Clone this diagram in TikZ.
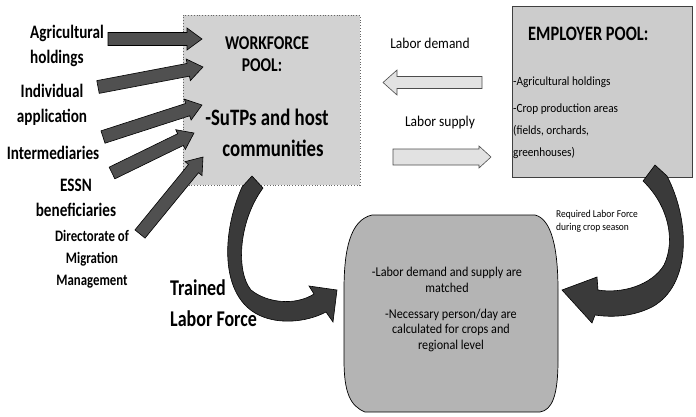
\documentclass[tikz,border=0pt]{standalone}
\usepackage{fontspec}
\setmainfont{Carlito}
\newfontfamily\lblfont{Carlito}[FakeStretch=0.8]
\newfontfamily\txtfont{Carlito}[FakeStretch=0.9]
\usetikzlibrary{calc}

% block arrow from #1 (tail) to #2 (tip): shaft half-width #3, head half-width #4, head length #5
\newcommand\blockarrow[6]{%
  \coordinate (bh) at ($(#2)!#5!(#1)$);
  \filldraw[#6] ($(#1)!#3!90:(#2)$) -- ($(bh)!#3!90:(#2)$) -- ($(bh)!#4!90:(#2)$)
    -- (#2) -- ($(bh)!#4!-90:(#2)$) -- ($(bh)!#3!-90:(#2)$) -- ($(#1)!#3!-90:(#2)$) -- cycle;}

\definecolor{wfgray}{HTML}{D2D2D2}
\definecolor{epgray}{HTML}{CCCCCC}
\definecolor{midgray}{HTML}{B4B4B4}
\definecolor{arrgray}{HTML}{505050}
\definecolor{curvegray}{HTML}{3A3A3A}
\definecolor{lightarr}{HTML}{E2E2E2}

\begin{document}
\begin{tikzpicture}[x=1pt,y=-1pt,
  biglabel/.style={font=\lblfont\bfseries\fontsize{19}{25}\selectfont, inner sep=0pt},
  smalllabel/.style={font=\lblfont\bfseries\fontsize{16}{22}\selectfont, inner sep=0pt, align=center},
  trained/.style={font=\lblfont\bfseries\fontsize{22.5}{31}\selectfont, inner sep=0pt, align=left},
  wftitle/.style={font=\lblfont\bfseries\fontsize{19.5}{20}\selectfont, inner sep=0pt},
  wfbody/.style={font=\lblfont\bfseries\fontsize{23.5}{31}\selectfont, inner sep=0pt},
  eptitle/.style={font=\lblfont\bfseries\fontsize{20.5}{24}\selectfont, inner sep=0pt},
  eptext/.style={font=\txtfont\fontsize{12.5}{22}\selectfont, inner sep=0pt, align=left},
  flowlabel/.style={font=\txtfont\fontsize{15}{18}\selectfont, inner sep=0pt},
  midtext/.style={font=\txtfont\fontsize{13.5}{15.5}\selectfont, inner sep=0pt, align=center},
  reqtext/.style={font=\txtfont\fontsize{10.5}{12.5}\selectfont, inner sep=0pt, align=left},
  inarrow/.style={fill=arrgray, draw=black, line width=0.6pt},
  flowarrow/.style={fill=lightarr, draw=black!70, line width=0.6pt},
  curvearrow/.style={fill=curvegray, draw=black, line width=0.6pt},
]
\useasboundingbox (0,0) rectangle (696,416);

% ---- pools ----
\node[fill=wfgray, draw=black!60, dotted, line width=0.8pt,
      minimum width=177pt, minimum height=170pt, inner sep=0pt] (wf) at (271.5,100) {};
\node[wftitle] (wft1) at (267,43) {WORKFORCE};
\node[wftitle] (wft2) at (262,65) {POOL:};
\node[wfbody] (wfb1) at (267,117) {-SuTPs and host};
\node[wfbody] (wfb2) at (273,148) {communities};

\node[fill=epgray, draw=black!75, line width=0.7pt,
      minimum width=180pt, minimum height=171pt, inner sep=0pt] (ep) at (602,92) {};
\node[eptitle, anchor=west] (ept) at (528,34) {EMPLOYER POOL:};
\node[eptext, anchor=west] (ep1) at (513,82) {-Agricultural holdings};
\node[eptext, anchor=north west] (ep2) at (513,104) {-Crop production areas\\(fields, orchards,\\greenhouses)};

% ---- matching stage ----
\filldraw[fill=midgray, draw=black, line width=0.7pt]
  (372,215) -- (535,215) .. controls (552,219) and (558,250) .. (558,290)
  -- (558,360) .. controls (558,396) and (552,410) .. (540,412)
  -- (365,412) .. controls (350,406) and (344,392) .. (344,360)
  -- (344,290) .. controls (344,250) and (350,220) .. (372,215) -- cycle;
\node[midtext] (m1) at (447,280) {-Labor demand and supply are\\matched};
\node[midtext] (m2) at (451,330) {-Necessary person/day are\\calculated for crops and\\regional level};

% ---- sources ----
\node[biglabel, align=left, anchor=west] (agri) at (30,46) {Agricultural\\holdings};
\node[biglabel, align=center] (indiv) at (52,105) {Individual\\application};
\node[biglabel] (inter) at (53,153) {Intermediaries};
\node[biglabel, align=center] (essn) at (76,198) {ESSN\\beneficiaries};
\node[smalllabel] (dmm) at (92,259) {Directorate of\\Migration\\Management};

\coordinate (t1) at (108,39);  \coordinate (h1) at (202,39);
\coordinate (t2) at (98,87);   \coordinate (h2) at (203,67);
\coordinate (t3) at (103,137); \coordinate (h3) at (202,105);
\coordinate (t4) at (112,173); \coordinate (h4) at (194,133);
\coordinate (t5) at (140,234); \coordinate (h5) at (203,157);
\blockarrow{t1}{h1}{6.5pt}{11pt}{15pt}{inarrow}
\blockarrow{t2}{h2}{6.5pt}{11pt}{15pt}{inarrow}
\blockarrow{t3}{h3}{6.5pt}{11pt}{15pt}{inarrow}
\blockarrow{t4}{h4}{6.5pt}{11pt}{15pt}{inarrow}
\blockarrow{t5}{h5}{6.5pt}{11pt}{15pt}{inarrow}

% ---- demand / supply ----
\node[flowlabel] (dem) at (430,43) {Labor demand};
\node[flowlabel] (sup) at (440,122) {Labor supply};
\coordinate (dt) at (482,82.5); \coordinate (dh) at (383,82.5);
\coordinate (st) at (393,157);  \coordinate (sh) at (491,157);
\blockarrow{dt}{dh}{6pt}{12.5pt}{14pt}{flowarrow}
\blockarrow{st}{sh}{8pt}{11pt}{12pt}{flowarrow}

% ---- curved arrows ----
\filldraw[curvearrow]
  (242,187) .. controls (222,232) and (220,292) .. (255,313)
  .. controls (275,325) and (305,323) .. (326,312)
  -- (333,322) -- (337,290) -- (309,286) -- (314,294)
  .. controls (295,306) and (267,303) .. (251,290)
  .. controls (236,272) and (238,222) .. (263,188) -- (252,176) -- cycle;
\node[trained, anchor=west] (trn) at (170,303) {Trained\\Labor Force};

\filldraw[curvearrow]
  (643,181) -- (655,165) -- (667,176)
  .. controls (690,220) and (692,285) .. (652,307)
  .. controls (630,318) and (608,317) .. (595,315)
  -- (592,323) -- (562,290) -- (597,277) -- (598,290)
  .. controls (622,294) and (652,285) .. (664,265)
  .. controls (676,240) and (668,205) .. (643,181) -- cycle;
\node[reqtext, anchor=west] (req) at (556,221) {Required Labor Force\\during crop season};
\end{tikzpicture}
\end{document}
